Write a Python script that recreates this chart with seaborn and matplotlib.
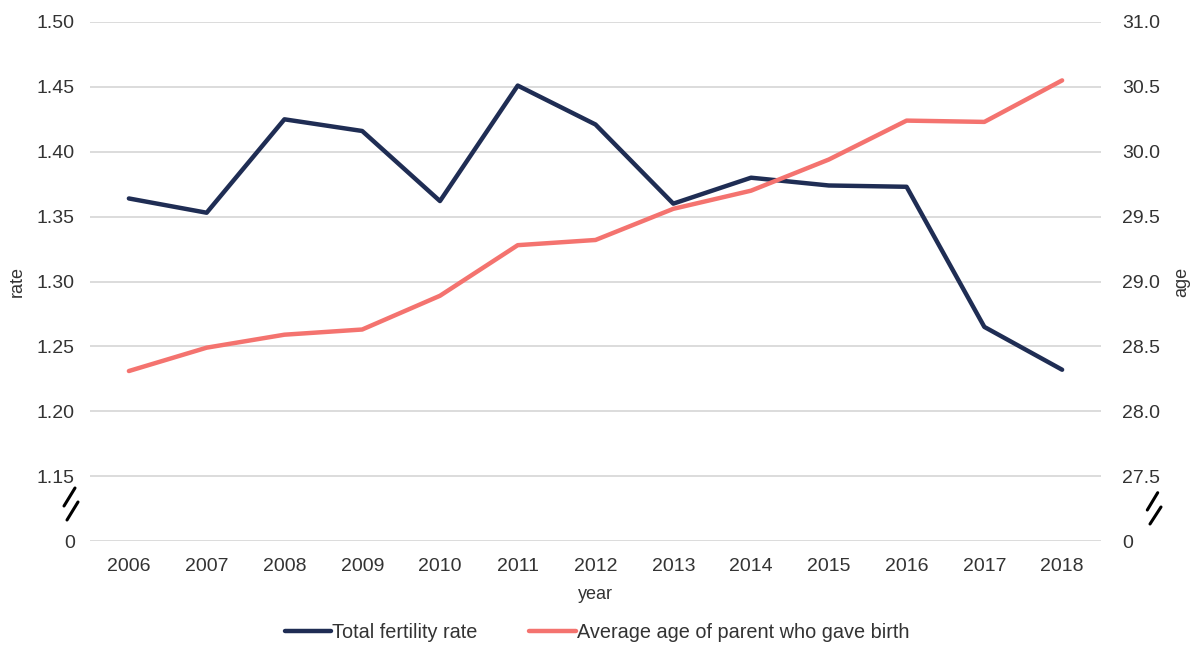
import matplotlib
matplotlib.use("Agg")
import matplotlib.pyplot as plt
import seaborn as sns
import pandas as pd
from matplotlib.lines import Line2D

years = ["2006", "2007", "2008", "2009", "2010", "2011", "2012",
         "2013", "2014", "2015", "2016", "2017", "2018"]
fertility_rate = [1.364, 1.353, 1.425, 1.416, 1.362, 1.451, 1.421,
                  1.360, 1.380, 1.374, 1.373, 1.265, 1.232]
average_age = [28.31, 28.49, 28.59, 28.63, 28.89, 29.28, 29.32,
               29.56, 29.70, 29.94, 30.24, 30.23, 30.55]
left_ticks = [1.10, 1.15, 1.20, 1.25, 1.30, 1.35, 1.40, 1.45, 1.50]
left_labels = ["0", "1.15", "1.20", "1.25", "1.30", "1.35", "1.40", "1.45", "1.50"]
right_ticks = [27.0, 27.5, 28.0, 28.5, 29.0, 29.5, 30.0, 30.5, 31.0]
right_labels = ["0", "27.5", "28.0", "28.5", "29.0", "29.5", "30.0", "30.5", "31.0"]
series_names = ["Total fertility rate", "Average age of parent who gave birth"]

sns.set_theme(style="white")
plt.rcParams["font.family"] = ["Liberation Sans", "DejaVu Sans"]

navy = "#1f2d54"
salmon = "#f4736f"
text_col = "#333333"

df = pd.DataFrame({"year": years, "rate": fertility_rate, "age": average_age})
df["x"] = range(len(years))

fig = plt.figure(figsize=(11.93, 6.46), dpi=100)
ax = fig.add_axes([90 / 1193, 1 - 541 / 646, (1101 - 90) / 1193, (541 - 22) / 646])
ax2 = ax.twinx()

for y in left_ticks:
    ax.axhline(y, color="#d9d9d9", lw=1.3, zorder=0)

sns.lineplot(data=df, x="x", y="rate", ax=ax, color=navy, lw=3.2, legend=False, zorder=3)
sns.lineplot(data=df, x="x", y="age", ax=ax2, color=salmon, lw=3.2, legend=False, zorder=3)

ax.set_xlim(-0.5, len(years) - 0.5)
ax.set_ylim(1.10, 1.50)
ax2.set_ylim(27.0, 31.0)
ax.set_xticks(range(len(years)))
ax.set_xticklabels(years)
ax.set_yticks(left_ticks)
ax.set_yticklabels(left_labels)
ax2.set_yticks(right_ticks)
ax2.set_yticklabels(right_labels)

for a in (ax, ax2):
    for s in a.spines.values():
        s.set_visible(False)
    a.tick_params(axis="both", length=0, labelsize=14, colors=text_col)
ax.tick_params(axis="y", pad=11)
ax2.tick_params(axis="y", pad=15)
ax.tick_params(axis="x", pad=12)

ax.set_xlabel("year", fontsize=13, color=text_col, labelpad=8)
ax.set_ylabel("rate", fontsize=13, color=text_col, labelpad=8)
ax2.set_ylabel("age", fontsize=13, color=text_col, rotation=90, labelpad=10)

# axis break marks
def px(x, y):
    return x / 1193, 1 - y / 646

for (x0, y0, x1, y1) in [(75, 488, 64, 506), (78, 502, 67, 520),
                         (1157.7, 492.7, 1147.3, 510), (1161, 507, 1150, 524)]:
    a0, b0 = px(x0, y0)
    a1, b1 = px(x1, y1)
    fig.add_artist(Line2D([a0, a1], [b0, b1], color="black", lw=2.2, transform=fig.transFigure))

handles = [Line2D([], [], color=navy, lw=3.2), Line2D([], [], color=salmon, lw=3.2)]
leg = fig.legend(handles, series_names, loc="center", bbox_to_anchor=(597 / 1193, 1 - 632 / 646),
                 ncol=2, frameon=False, fontsize=14.3, handlelength=2.35, handletextpad=0.05,
                 columnspacing=2.6)
for t in leg.get_texts():
    t.set_color(text_col)

fig.savefig("out.png", dpi=100)
